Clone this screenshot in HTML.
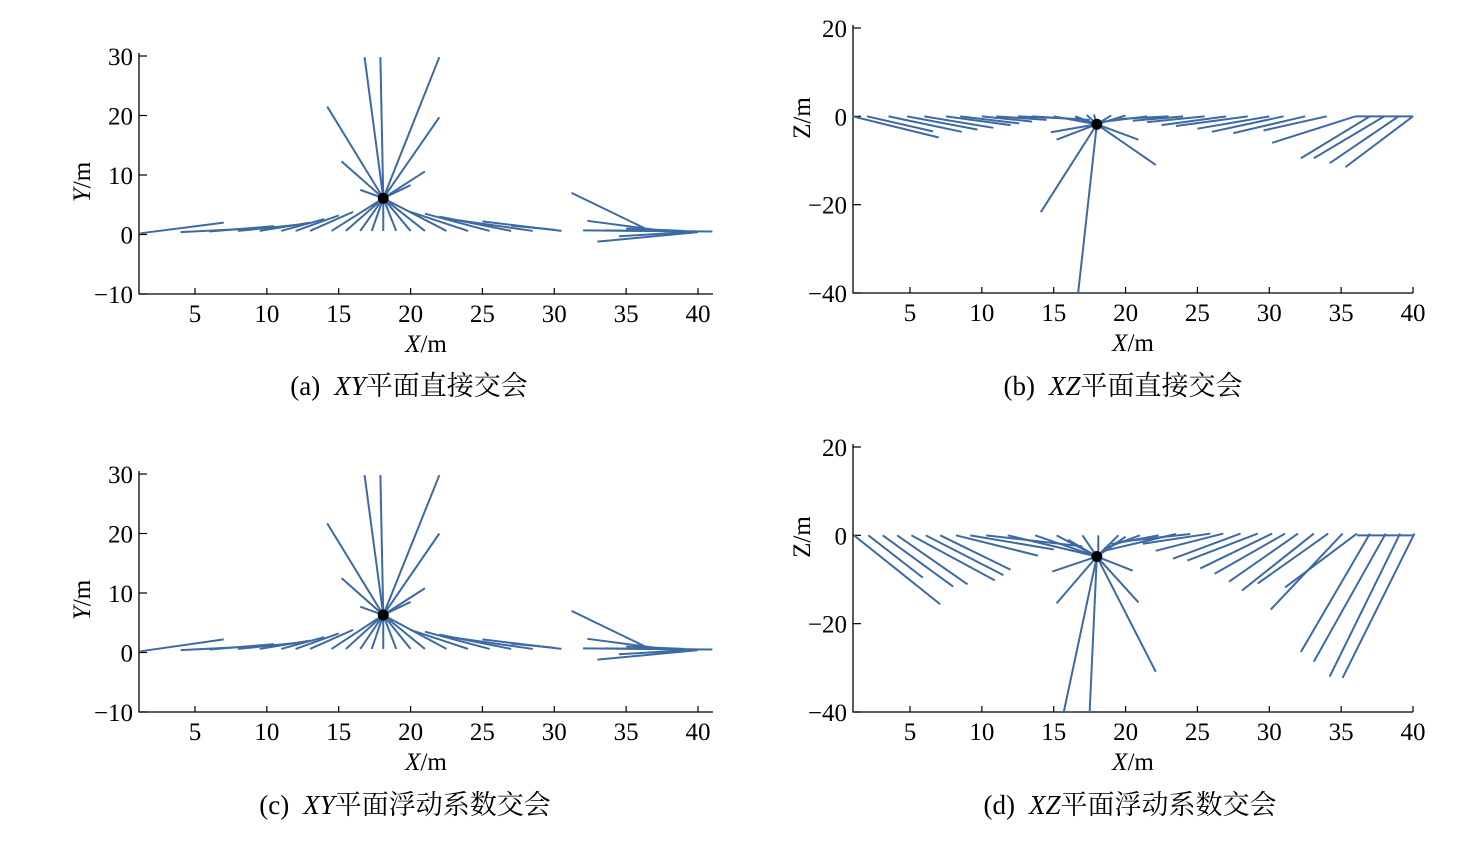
<!DOCTYPE html>
<html><head><meta charset="utf-8"><style>
body{margin:0;background:#fff;width:1479px;height:843px;overflow:hidden}
svg{position:absolute;left:0;top:0}
text{font-family:"Liberation Serif","Noto Serif CJK SC",serif;fill:#000}
</style></head><body>
<svg id="fig" width="1479" height="843"></svg>
<script>
// Panel data: segments [x1,y1,x2,y2] in data units, and intersection point
const segA=[[1.2,0.2,7,2],[4,0.4,9,1],[6,0.5,10.5,1.4],[8,0.6,12,1.6],[9.5,0.6,13,2],[11,0.6,14,2.6],[12,0.6,15,3.2],[13,0.6,16,3.8],[14.5,0.6,18.1,6.1],[15.5,0.6,18.1,6.1],[16.5,0.6,18.1,6.1],[17.3,0.6,18.1,6.1],[18.1,0.6,18.1,6.1],[19,0.6,18.1,6.1],[20,0.6,18.1,6.1],[21,0.6,18.1,6.1],[22.5,0.6,18.1,6.1],[24,0.6,20,3.8],[25.5,0.6,21,3.5],[27,0.6,22,3],[28.5,0.6,23,2.5],[30.5,0.6,25,2.2],[30,0.8,27,1.5],[31.2,7,36.5,0.8],[32.3,2.3,37,0.8],[33.5,0.7,40,0.5],[32,0.7,41,0.5],[33,-1.2,40,0.4],[34.5,-0.3,40,0.5],[35,1,39,0.6],[18.1,6.1,16.8,29.8],[18.1,6.1,17.9,29.8],[18.1,6.1,22,29.8],[18.1,6.1,14.2,21.5],[18.1,6.1,22,19.7],[18.1,6.1,15.2,12.3],[18.1,6.1,21,10.6],[18.1,6.1,20,8.3],[18.1,6.1,16.5,7.5]];
const ptA=[18.1,6.1];
const segB=[[1,0,7,-4.8],[2,0,6.6,-3.4],[3.5,0,8.6,-3.5],[4.8,0,9.7,-3],[6,0,10.8,-2.6],[7.5,0,12,-2],[8.5,0,12.6,-1.6],[10,0,13.5,-1.2],[11,0,14.5,-0.8],[12.5,0,16,-0.5],[13.5,0,17.5,-0.8],[15,0,18,-1.8],[16.5,0,18,-1.8],[17.8,0.4,18,-1.8],[19,0.2,18,-1.8],[20,0.2,18,-1.8],[21.5,0,18.5,-1.2],[23,0,19.5,-0.6],[24,0,20.5,-1],[25.5,0,21.5,-1.3],[27,0,22.5,-2],[28.5,0,23.5,-2.2],[30,0,25,-2.8],[31,0,26,-3.5],[32.5,0,27.5,-3.8],[34,0,29.6,-3.2],[36,0,30.2,-6],[36,0,40,0],[37,0,32.2,-9.5],[38,0,33.1,-9.5],[39,0,34.2,-10.6],[40,0,35.3,-11.5],[18,-1.8,16.7,-40],[18,-1.8,14.1,-21.7],[18,-1.8,22.1,-11],[18,-1.8,20.9,-5.3],[18,-1.8,15.2,-5.3],[18,-1.8,14.8,-3.6],[18,-1.8,17.3,0.3],[18,-1.8,16.5,-0.2]];
const ptB=[18,-1.8];
const segC=[[1.2,0.2,7,2.2],[4,0.4,9,1],[6,0.5,10.5,1.4],[8,0.6,12,1.6],[9.5,0.6,13,2],[11,0.6,14,2.6],[12,0.6,15,3.2],[13,0.6,16,3.8],[14.5,0.6,18.1,6.3],[15.5,0.6,18.1,6.3],[16.5,0.6,18.1,6.3],[17.3,0.6,18.1,6.3],[18.1,0.6,18.1,6.3],[19,0.6,18.1,6.3],[20,0.6,18.1,6.3],[21,0.6,18.1,6.3],[22.5,0.6,18.1,6.3],[24,0.6,20,3.8],[25.5,0.6,21,3.5],[27,0.6,22,3],[28.5,0.6,23,2.5],[30.5,0.6,25,2.2],[30,0.8,27,1.5],[31.2,7,36.5,0.8],[32.3,2.3,37,0.8],[33.5,0.7,40,0.5],[32,0.7,41,0.5],[33,-1.2,40,0.4],[34.5,-0.3,40,0.5],[35,1,39,0.6],[18.1,6.3,16.8,29.8],[18.1,6.3,17.9,29.8],[18.1,6.3,22,29.8],[18.1,6.3,14.2,21.7],[18.1,6.3,22,20],[18.1,6.3,15.2,12.5],[18.1,6.3,21,10.8],[18.1,6.3,20,8.5],[18.1,6.3,16.5,7.7]];
const ptC=[18.1,6.3];
const segD=[[1.1,0,7.1,-15.6],[2.1,0,5.9,-9.6],[3.1,0,8,-11.6],[4.1,0,9,-11.1],[5.1,0,10.9,-10.2],[6.1,0,11.5,-9],[7.1,0,12,-7.8],[8.2,0,13.9,-4.6],[9.2,0,15,-3.2],[10.3,0,17,-2.5],[11.8,0,18,-4.8],[13.7,0,18,-4.8],[15.2,0,18,-4.8],[17,0,18,-4.8],[18.1,0,18.1,-4.8],[19.5,0,18,-4.8],[21,0,18.5,-3],[22.3,0,19,-2],[23.5,0.3,18.5,-3.5],[24.5,0.3,19.5,-1.5],[25.9,0.4,21.2,-1.9],[26.8,0.4,22.1,-3.5],[28,0.4,23.3,-5.3],[29.2,0.4,24.3,-5.7],[30.2,0.4,25.2,-7.5],[31.1,0.4,26.2,-8.7],[32,0.4,27.2,-10.5],[33.1,0.4,28.1,-12.5],[34.1,0.4,29.2,-10.9],[35.1,0.4,30.1,-16.8],[36.1,0.4,31.1,-11.8],[36.1,0,40,0],[37,0.4,32.2,-26.4],[38.1,0.4,33.1,-28.6],[39.1,0.4,34.2,-32],[40.1,0.4,35.1,-32.3],[18,-4.8,15.7,-40],[18,-4.8,17.5,-40],[18,-4.8,22.1,-30.9],[18,-4.8,20.9,-15.2],[18,-4.8,15.2,-15.4],[18,-4.8,14.9,-8.2],[18,-4.8,20.5,-8],[18,-4.8,16,-1],[18,-4.8,20,-0.3]];
const ptD=[18,-4.8];
const xTicks=[5,10,15,20,25,30,35,40];
const yTicksXY=[-10,0,10,20,30];
const yTicksXZ=[-40,-20,0,20];

const NS="http://www.w3.org/2000/svg";
const fig=document.getElementById('fig');
function mk(tag,attrs,parent,txt){const e=document.createElementNS(NS,tag);for(const k in attrs)e.setAttribute(k,attrs[k]);if(txt!==undefined)e.textContent=txt;parent.appendChild(e);return e;}

function panel(o){
  const g=mk('g',{},fig);
  
  
  const sx=v=>o.x0+(v-5)*(o.x1-o.x0)/35;
  const sy=v=>o.ytop+(o.ymax-v)*(o.ybot-o.ytop)/(o.ymax-o.ymin);
  const ax=mk('path',{d:`M${o.axL},${o.ytop-3}V${o.ybot}H${o.axR}`,stroke:'#000','stroke-width':1.3,fill:'none'},g);
  
  
  xTicks.forEach(t=>{
    mk('line',{x1:sx(t),x2:sx(t),y1:o.ybot,y2:o.ybot-6,stroke:'#000','stroke-width':1.2},g);
    const tl=mk('text',{x:sx(t),y:o.ybot+28,'font-size':25,'text-anchor':'middle'},g,String(t));
    
    
  });
  o.yt.forEach(t=>{
    mk('line',{x1:o.axL,x2:o.axL+8,y1:sy(t),y2:sy(t),stroke:'#000','stroke-width':1.2},g);
    const tl=mk('text',{x:o.axL-6,y:sy(t)+9,'font-size':25,'text-anchor':'end'},g,(t<0?'\u2212'+(-t):String(t)));
    
    
  });
  o.segs.forEach(s=>{
    const l=mk('line',{x1:sx(s[0]),y1:sy(s[1]),x2:sx(s[2]),y2:sy(s[3]),stroke:'#3d6aa3','stroke-width':2,'stroke-linecap':'butt'},g);
    
    
  });
  const c=mk('circle',{cx:sx(o.pt[0]),cy:sy(o.pt[1]),r:5.5,fill:'#000'},g);
  
  
  const xt=mk('text',{x:(o.axL+o.axR)/2,y:o.ybot+58,'font-size':25,'text-anchor':'middle'},g);
  xt.innerHTML='<tspan font-style="italic">X</tspan>/m';
  
  
  const yt=mk('text',{x:0,y:0,'font-size':25,'text-anchor':'middle',transform:`translate(${o.ytx},${o.yty}) rotate(-90)`},g);
  yt.innerHTML=`<tspan font-style="${o.yital?'italic':'normal'}">${o.ylab}</tspan>/m`;
  
  
  const cap=mk('text',{x:o.capx,y:o.capy,'font-size':27,'text-anchor':'middle'},g);
  cap.innerHTML=o.cap;
  
  
}
panel({name:'panel-a',x0:195,x1:698,axL:139,axR:713,ytop:56,ybot:294,ymax:30,ymin:-10,yt:yTicksXY,segs:segA,pt:ptA,ylab:'Y',yital:true,ytx:90,yty:182,capx:409,capy:395,cap:'(a)<tspan dx="14" font-style="italic">XY</tspan>平面直接交会'});
panel({name:'panel-b',x0:910,x1:1413,axL:853,axR:1413,ytop:28,ybot:293,ymax:20,ymin:-40,yt:yTicksXZ,segs:segB,pt:ptB,ylab:'Z',yital:false,ytx:810,yty:118,capx:1123,capy:395,cap:'(b)<tspan dx="14" font-style="italic">XZ</tspan>平面直接交会'});
panel({name:'panel-c',x0:195,x1:698,axL:139,axR:713,ytop:474,ybot:712,ymax:30,ymin:-10,yt:yTicksXY,segs:segC,pt:ptC,ylab:'Y',yital:true,ytx:90,yty:600,capx:405,capy:814,cap:'(c)<tspan dx="14" font-style="italic">XY</tspan>平面浮动系数交会'});
panel({name:'panel-d',x0:910,x1:1413,axL:853,axR:1413,ytop:447,ybot:712,ymax:20,ymin:-40,yt:yTicksXZ,segs:segD,pt:ptD,ylab:'Z',yital:false,ytx:810,yty:537,capx:1130,capy:814,cap:'(d)<tspan dx="14" font-style="italic">XZ</tspan>平面浮动系数交会'});
</script>
</body></html>
